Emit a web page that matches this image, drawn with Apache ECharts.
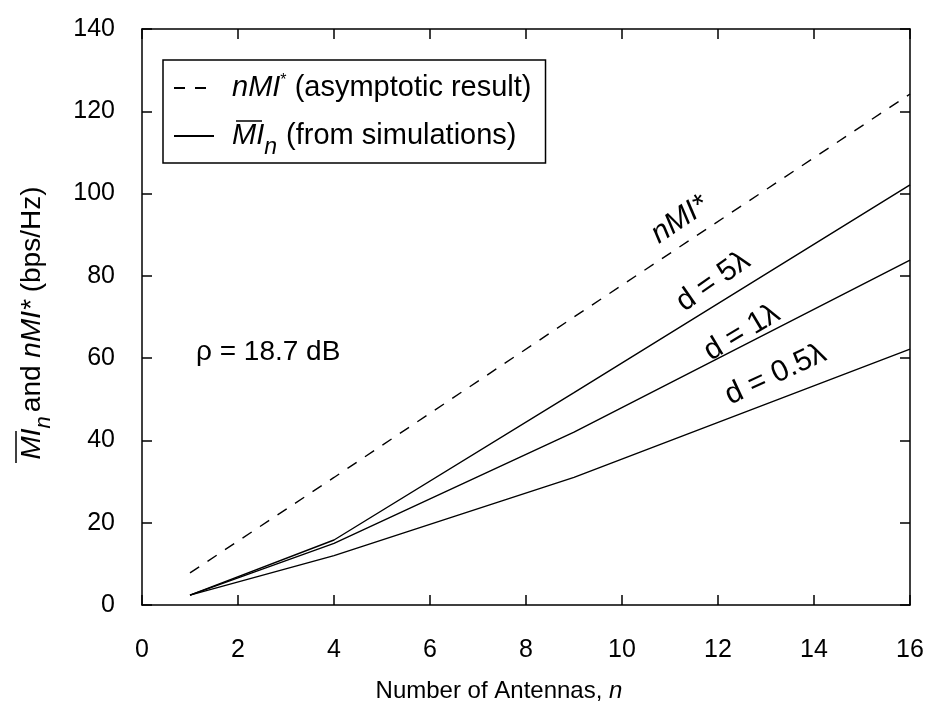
<!DOCTYPE html>
<html>
<head>
  <meta charset="utf-8">
  <title>MI vs antennas</title>
  <script src="https://cdn.jsdelivr.net/npm/echarts@6/dist/echarts.min.js"></script>
  <style>
    html, body { margin: 0; padding: 0; background: #fff; }
    #main { width: 930px; height: 708px; }
  </style>
</head>
<body>
  <div id="main"></div>
  <script type="text/javascript">
    // values
    var antennas = [1, 4, 9, 16];
    var asymptotic = [7.8, 31.0, 70.0, 124.2];
    var d5 = [2.4, 15.8, 51.6, 102.1];
    var d1 = [2.4, 15.0, 42.0, 83.8];
    var d05 = [2.4, 12.0, 31.0, 62.2];

    var FONT = "'Liberation Sans', Arial, Helvetica, sans-serif";
    var simName = 'sim';

    function pairs(ys) {
      return antennas.map(function (n, i) { return [n, ys[i]]; });
    }

    // text placed along a curve, rotated with it
    function curveLabel(text, x, y, rot) {
      return {
        coord: [x, y],
        symbol: 'circle', symbolSize: 1,
        itemStyle: { color: 'transparent' },
        label: {
          show: true, formatter: text, rotate: rot, position: 'inside',
          color: '#000', fontSize: 30, fontFamily: FONT,
          rich: { i: { fontSize: 30, fontFamily: FONT, fontStyle: 'italic', color: '#000' } }
        }
      };
    }

    var myChart = echarts.init(document.getElementById('main'));

    var axisCommon = {
      type: 'value',
      axisLine: { show: true, onZero: false, lineStyle: { color: '#000', width: 1.5 } },
      axisTick: { show: true, inside: true, length: 10, lineStyle: { color: '#000', width: 1.5 } },
      splitLine: { show: false }
    };

    var option = {
      animation: false,
      backgroundColor: '#fff',
      grid: { left: 142, right: 20, top: 29, bottom: 102 },
      legend: {
        orient: 'vertical',
        left: 163, top: 60,
        padding: [13, 14, 4, 10],
        borderColor: '#000', borderWidth: 1.5, borderRadius: 0,
        itemWidth: 40, itemHeight: 30, itemGap: 19,
        itemStyle: { opacity: 0 },
        data: ['asym', simName],
        formatter: function (name) {
          if (name === 'asym') return '{sp| }{i|nMI}{sup|*}{t| (asymptotic result)}';
          return '{sp| }{i|MI}{sub|n}{t| (from simulations)}';
        },
        textStyle: {
          color: '#000', fontFamily: FONT, fontSize: 29,
          rich: {
            sp: { width: 13, fontSize: 29, lineHeight: 30 },
            t: { fontSize: 29, fontFamily: FONT, color: '#000', lineHeight: 30 },
            i: { fontSize: 29, fontFamily: FONT, fontStyle: 'italic', color: '#000', lineHeight: 30 },
            sup: { fontSize: 16, fontFamily: FONT, color: '#000', verticalAlign: 'top', lineHeight: 16 },
            sub: { fontSize: 23, fontFamily: FONT, fontStyle: 'italic', color: '#000', verticalAlign: 'bottom', lineHeight: 23, padding: [0, 1, -8, 0] }
          }
        }
      },
      xAxis: [
        Object.assign({}, axisCommon, {
          min: 0, max: 16, interval: 2,
          name: '{t|Number of Antennas, }{i|n}',
          nameLocation: 'middle', nameGap: 74,
          nameTextStyle: {
            padding: [0, 54, 0, 0],
            rich: {
              t: { fontSize: 24, fontFamily: FONT, color: '#000' },
              i: { fontSize: 24, fontFamily: FONT, fontStyle: 'italic', color: '#000' }
            }
          },
          axisLabel: { margin: 33, color: '#000', fontSize: 25, fontFamily: FONT }
        }),
        Object.assign({}, axisCommon, {
          min: 0, max: 16, interval: 2, position: 'top',
          axisLabel: { show: false }
        })
      ],
      yAxis: [
        Object.assign({}, axisCommon, {
          min: 0, max: 140, interval: 20,
          name: '{i|MI}{sub|n}{t|and }{i|nMI*}{t| (bps/Hz)}',
          nameLocation: 'middle', nameGap: 95,
          nameTextStyle: {
            padding: [0, 12, 0, 0],
            rich: {
              t: { fontSize: 28, fontFamily: FONT, color: '#000', lineHeight: 30 },
              i: { fontSize: 28, fontFamily: FONT, fontStyle: 'italic', color: '#000', lineHeight: 30 },
              sub: { fontSize: 22, fontFamily: FONT, fontStyle: 'italic', color: '#000', verticalAlign: 'bottom', lineHeight: 22, padding: [0, 4, -8, 0] }
            }
          },
          axisLabel: { margin: 27, color: '#000', fontSize: 25, fontFamily: FONT }
        }),
        Object.assign({}, axisCommon, {
          min: 0, max: 140, interval: 20, position: 'right',
          axisLabel: { show: false }
        })
      ],
      series: [
        {
          name: 'asym', type: 'line', symbol: 'none',
          data: pairs(asymptotic),
          lineStyle: { color: '#000', width: 1.4, type: [11, 10] },
          itemStyle: { color: '#000' },
          markPoint: { data: [curveLabel('{i|nMI*}', 11.2, 93.6, 34)] }
        },
        {
          name: simName, type: 'line', symbol: 'none',
          data: pairs(d5),
          lineStyle: { color: '#000', width: 1.4 },
          itemStyle: { color: '#000' },
          markPoint: { data: [curveLabel('d = 5λ', 11.9, 78.6, 35)] }
        },
        {
          name: simName, type: 'line', symbol: 'none',
          data: pairs(d1),
          lineStyle: { color: '#000', width: 1.4 },
          itemStyle: { color: '#000' },
          markPoint: { data: [curveLabel('d = 1λ', 12.5, 66.2, 31)] }
        },
        {
          name: simName, type: 'line', symbol: 'none',
          data: pairs(d05),
          lineStyle: { color: '#000', width: 1.4 },
          itemStyle: { color: '#000' },
          markPoint: { data: [curveLabel('d = 0.5λ', 13.2, 56.0, 25)] }
        }
      ],
      graphic: [
        {
          type: 'text', left: 196, top: 338,
          style: { text: 'ρ = 18.7 dB', fill: '#000', fontSize: 28, fontFamily: FONT }
        },
        // overbars on MI (legend and y axis title)
        { type: 'line', shape: { x1: 236, y1: 121, x2: 262, y2: 121 }, style: { stroke: '#000', lineWidth: 1.5 } },
        { type: 'line', shape: { x1: 16, y1: 431, x2: 16, y2: 463 }, style: { stroke: '#000', lineWidth: 1.5 } }
      ]
    };

    myChart.setOption(option);
  </script>
</body>
</html>
